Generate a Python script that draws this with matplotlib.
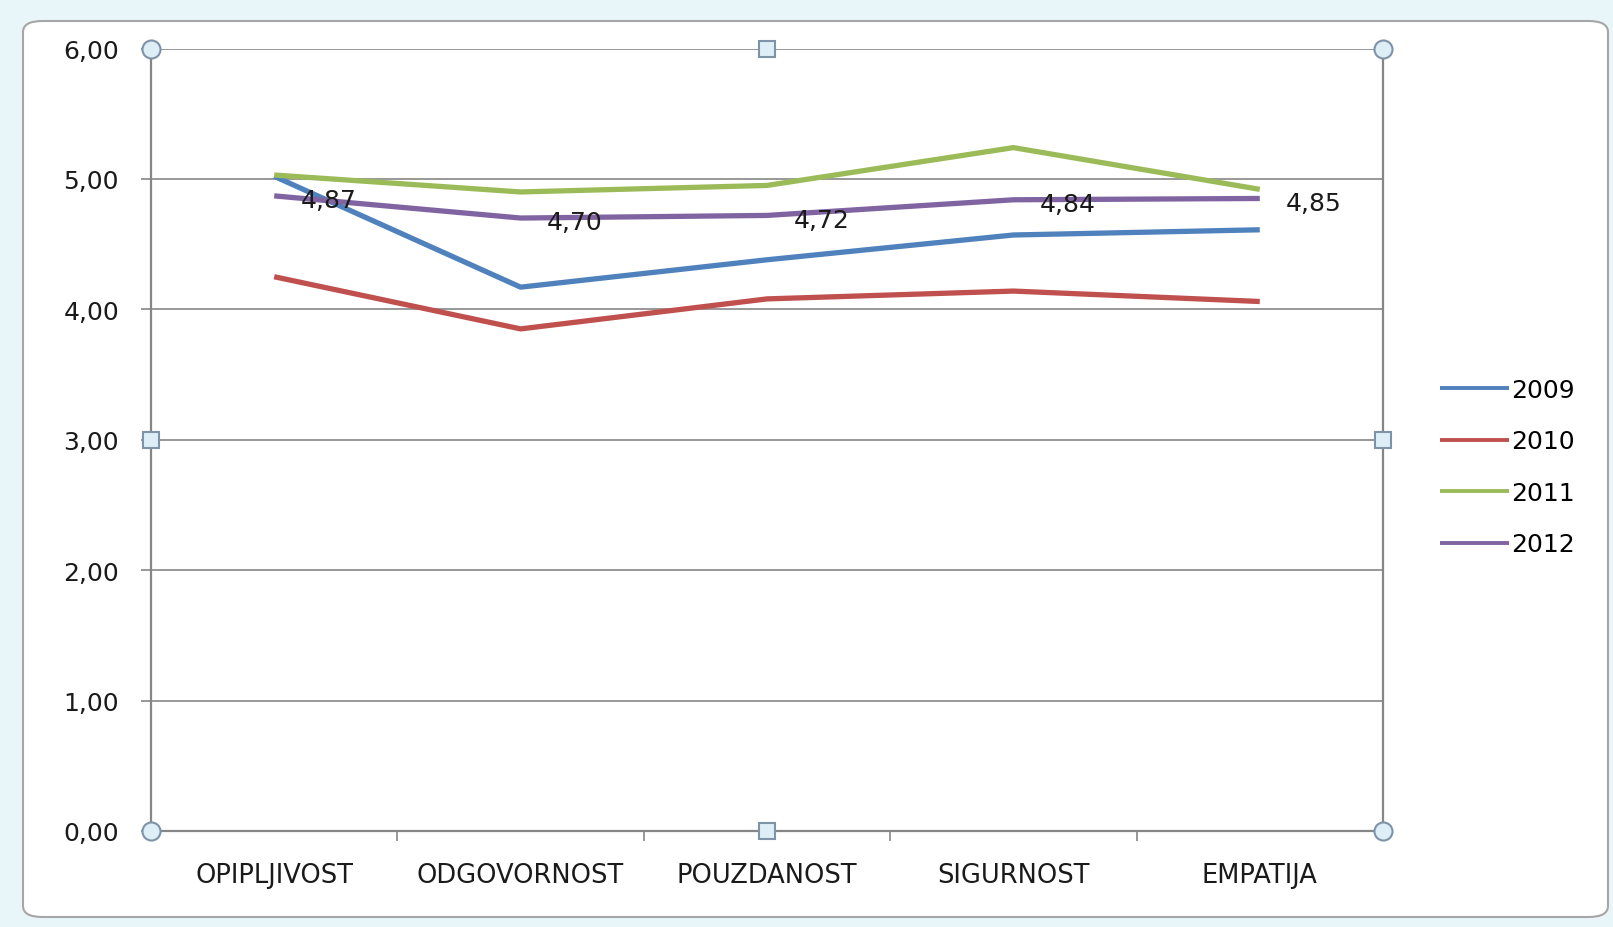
import numpy as np
import matplotlib.pyplot as plt
from matplotlib.patches import FancyBboxPatch

categories = ["OPIPLJIVOST", "ODGOVORNOST", "POUZDANOST", "SIGURNOST", "EMPATIJA"]
years = ["2009", "2010", "2011", "2012"]
v2009 = [5.02, 4.17, 4.38, 4.57, 4.61]
v2010 = [4.25, 3.85, 4.08, 4.14, 4.06]
v2011 = [5.03, 4.90, 4.95, 5.24, 4.92]
v2012 = [4.87, 4.70, 4.72, 4.84, 4.85]
yticks = [0, 1, 2, 3, 4, 5, 6]

series = [v2009, v2010, v2011, v2012]
colors = ["#4F81BD", "#C0504D", "#9BBB59", "#8064A2"]

plt.rcParams['font.family'] = ['DejaVu Sans']
fig = plt.figure(figsize=(16.13, 9.28), dpi=100)
fig.patch.set_facecolor("#E8F6FA")

# chart area frame, kept behind the axes
frame = FancyBboxPatch((23 / 1613, 10 / 928), 1585 / 1613, 896 / 928,
                       boxstyle="round,pad=0,rounding_size=0.012",
                       transform=fig.transFigure, facecolor="white",
                       edgecolor="#A6A6A6", linewidth=1.5, zorder=-10)
fig.patches.append(frame)

ax = fig.add_axes([151 / 1613, 96 / 928, 1232 / 1613, 782.5 / 928])
ax.set_facecolor("white")

x = np.arange(len(categories))
for vals, c, yr in zip(series, colors, years):
    ax.plot(x, vals, color=c, linewidth=3.8, label=yr, solid_capstyle="butt", zorder=3)

for xi, v in zip(x, v2012):
    ax.annotate(f"{v:.2f}".replace(".", ","), (xi, v), xytext=(19, -3),
                textcoords="offset points", ha="left", va="center",
                fontsize=18, color="#1A1A1A", zorder=4)

ax.set_xlim(-0.5, len(categories) - 0.5)
ax.set_ylim(0, 6)
ax.set_yticks(yticks)
ax.set_yticklabels([f"{t:.2f}".replace(".", ",") for t in yticks], fontsize=18, color="#1A1A1A")
ax.yaxis.grid(True, color="#868686", linewidth=1.2)
ax.set_axisbelow(True)
ax.tick_params(axis="y", length=7, width=1.2, color="#868686", pad=16)

ax.set_xticks(x)
ax.set_xticklabels(categories, fontsize=18.5, color="#1A1A1A")
ax.tick_params(axis="x", length=0, pad=22)
ax.set_xticks(np.arange(len(categories) + 1) - 0.5, minor=True)
ax.tick_params(axis="x", which="minor", length=7, width=1.2, color="#868686", direction="out")

for s in ["left", "right", "bottom", "top"]:
    ax.spines[s].set_color("#868686")
    ax.spines[s].set_linewidth(1.6)
ax.spines["top"].set_visible(False)

# selection handles on the plot area
hx = [0, 0.5, 1, 0, 1, 0, 0.5, 1]
hy = [1, 1, 1, 0.5, 0.5, 0, 0, 0]
hm = ["o", "s", "o", "s", "s", "o", "s", "o"]
for a, b, m in zip(hx, hy, hm):
    ax.plot(a, b, marker=m, markersize=13 if m == "o" else 11, markerfacecolor="#DDEEF7",
            markeredgecolor="#7F93A6", markeredgewidth=1.5, transform=ax.transAxes,
            clip_on=False, zorder=6)

leg = ax.legend(loc="center left", bbox_to_anchor=(1.028, 0.465), frameon=False,
                fontsize=18, handlelength=2.75, handletextpad=0.1, labelspacing=1.1)
for line in leg.get_lines():
    line.set_linewidth(2.8)

fig.savefig("out.png", dpi=100, facecolor=fig.get_facecolor())
